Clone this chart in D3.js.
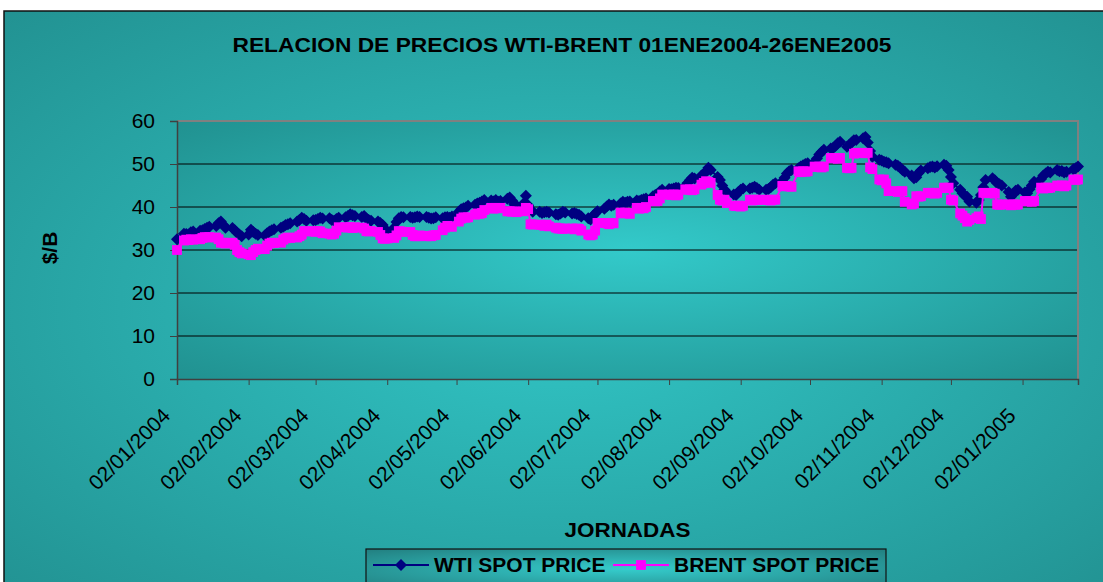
<!DOCTYPE html>
<html>
<head>
<meta charset="utf-8">
<script src="https://cdn.jsdelivr.net/npm/d3@7"></script>
<style>
  body { margin: 0; background: #fff; }
  text { font-family: "Liberation Sans", Arial, sans-serif; }
</style>
</head>
<body>
<script>
// trading days run from 02/01/2004 to 26/01/2005 (weekdays)
var startDate = "2004-01-02";
var endDate = "2005-01-26";

var tickLabels = ["02/01/2004", "02/02/2004", "02/03/2004", "02/04/2004", "02/05/2004", "02/06/2004",
  "02/07/2004", "02/08/2004", "02/09/2004", "02/10/2004", "02/11/2004", "02/12/2004", "02/01/2005"];
var yTicks = [0, 10, 20, 30, 40, 50, 60];

// WTI spot price, one line per week
var wti = [
  32.5,
  33.8, 33.7, 33.6, 34.1, 34.3,
  34.5, 34.6, 34.9, 35.2, 35.4,
  35.6, 36.2, 36.6, 35.9, 35.2,
  35.1, 34.6, 34.0, 33.6, 33.2,
  33.6, 34.7, 34.2, 33.8, 33.5,
  33.4, 33.9, 34.3, 34.6, 34.8,
  35.2, 35.4, 35.8, 36.0, 36.2,
  36.6, 37.0, 37.5, 37.2, 36.8,
  36.9, 37.0, 37.2, 37.5, 37.3,
  37.4, 37.0, 36.8, 37.2, 37.5,
  37.6, 37.9, 38.3, 38.1, 37.9,
  37.7, 37.9, 37.3, 37.0, 36.8,
  36.6, 36.3, 35.8, 34.9, 34.3,
  35.2, 36.5, 37.4, 37.7, 37.6,
  37.7, 37.5, 37.6, 37.8, 37.7,
  37.7, 37.5, 37.3, 37.4, 37.6,
  37.4, 37.6, 37.7, 37.5, 37.8,
  38.9, 39.5, 39.7, 39.9, 40.3,
  40.5, 40.8, 41.0, 41.3, 41.6,
  41.5, 41.3, 41.6, 41.2, 41.4,
  41.9, 42.2, 41.5, 40.6, 40.3,
  40.8, 42.6, 40.4, 39.5, 38.9,
  38.9, 38.6, 38.8, 38.9, 38.7,
  38.3, 38.2, 38.5, 38.9, 38.7,
  38.5, 38.6, 38.4, 38.2, 37.8,
  37.4, 37.1, 37.9, 38.5, 39.0,
  39.6, 40.1, 40.6, 40.3, 40.5,
  40.8, 41.2, 41.0, 41.2, 41.3,
  41.5, 41.4, 41.6, 41.8, 42.0,
  42.5, 42.8, 43.1, 43.6, 44.0,
  44.2, 44.1, 44.3, 44.5, 44.4,
  44.9, 45.6, 46.2, 46.8, 46.6,
  47.3, 47.6, 48.3, 49.1, 48.6,
  47.0, 46.3, 45.0, 44.0, 43.4,
  42.9, 42.8, 43.5, 44.0, 44.3,
  44.3, 44.5, 44.7, 44.4, 44.0,
  44.0, 44.2, 44.6, 45.2, 45.5,
  46.0, 46.8, 47.8, 48.3, 48.6,
  49.0, 49.4, 49.7, 50.0, 50.2,
  50.5, 51.3, 52.2, 52.8, 53.3,
  53.6, 53.7, 54.2, 54.8, 55.2,
  54.0, 54.5, 55.0, 55.5, 55.6,
  56.0, 56.3, 55.0, 53.0, 51.7,
  51.0, 50.8, 50.5, 50.4, 50.2,
  49.8, 49.6, 49.2, 48.6, 48.2,
  47.3, 46.7, 46.9, 47.9, 48.5,
  49.0, 49.3, 49.4, 49.2, 49.5,
  49.8, 49.6, 48.6, 47.0, 45.5,
  44.0, 43.2, 42.6, 42.4, 41.3,
  41.0, 41.6, 42.8, 44.6, 46.3,
  46.7, 46.2, 45.5, 45.3, 45.0,
  43.5, 42.4, 43.0, 43.8, 44.0,
  43.4, 43.2, 44.1, 45.0, 45.9,
  46.5, 47.3, 47.8, 48.2, 48.0,
  48.6, 48.3, 48.4, 48.0, 48.2,
  48.8, 49.0, 49.4
];

// Brent spot price, one line per week
var brent = [
  30.0,
  32.2, 32.4, 32.3, 32.5, 32.4,
  32.5, 32.8, 33.0, 32.9, 33.0,
  32.9, 32.5, 31.7, 31.7, 31.5,
  31.7, 31.2, 30.0, 29.5, 29.2,
  29.0, 28.8, 29.5, 30.0, 30.3,
  30.2, 31.0, 31.5, 31.7, 31.6,
  31.7, 32.4, 32.7, 32.9, 32.8,
  32.9, 33.2, 33.6, 34.4, 34.3,
  34.4, 34.2, 34.4, 34.3, 33.9,
  33.8, 33.6, 33.8, 34.5, 35.3,
  35.3, 35.2, 35.3, 35.1, 35.3,
  35.2, 35.0, 34.4, 34.3, 34.4,
  34.2, 33.5, 32.7, 32.6, 32.7,
  32.8, 33.4, 34.4, 34.3, 34.2,
  34.2, 33.5, 33.2, 33.2, 33.4,
  33.2, 33.3, 33.2, 33.4, 33.5,
  34.6, 35.2, 35.6, 35.5, 35.4,
  36.6, 37.3, 37.6, 37.5, 37.6,
  38.2, 38.5, 38.4, 38.6, 39.3,
  39.8, 39.6, 39.8, 39.7, 39.8,
  39.0, 39.0, 38.9, 39.0, 38.8,
  39.0, 39.8, 39.5, 36.0, 35.9,
  35.9, 35.8, 35.6, 35.9, 35.5,
  35.2, 35.0, 35.0, 34.9, 35.0,
  35.0, 34.8, 35.0, 34.9, 34.5,
  33.6, 33.4, 33.6, 34.5, 36.3,
  36.3, 36.2, 36.0, 36.3, 36.2,
  38.7, 38.5, 38.7, 38.6, 38.4,
  39.8, 39.6, 39.8, 39.7, 40.0,
  41.4, 41.3, 41.4, 42.0, 42.9,
  42.9, 42.8, 42.9, 42.7, 42.9,
  44.1, 44.0, 44.1, 43.9, 44.1,
  45.2, 45.6, 46.0, 45.8, 45.6,
  42.8, 41.7, 41.5, 41.7, 40.9,
  40.3, 40.2, 40.3, 40.1, 40.3,
  41.7, 41.5, 41.7, 41.6, 41.7,
  41.7, 41.6, 41.5, 41.7, 41.7,
  44.9, 44.8, 44.9, 44.8, 44.7,
  48.3, 48.1, 48.3, 48.2, 48.3,
  49.4, 49.3, 49.4, 49.2, 49.4,
  51.4, 51.3, 51.4, 51.2, 51.4,
  49.1, 49.0, 49.1, 52.4, 52.6,
  52.6, 52.5, 52.6, 49.2, 48.8,
  46.4, 46.2, 46.4, 45.5, 43.7,
  43.7, 43.5, 43.6, 43.7, 41.2,
  40.6, 40.8, 42.5, 42.4, 42.5,
  43.3, 43.2, 43.3, 43.1, 43.3,
  44.5, 44.4, 44.5, 41.7, 41.5,
  38.5, 38.0, 37.4, 36.6, 37.0,
  37.4, 37.8, 37.2, 43.3, 43.2,
  43.3, 43.1, 40.6, 40.5, 40.6,
  40.6, 40.4, 40.6, 40.5, 40.6,
  41.4, 41.3, 41.4, 41.2, 41.4,
  44.5, 44.3, 44.5, 44.4, 44.5,
  45.0, 44.9, 45.0, 44.8, 45.0,
  46.4, 46.3, 46.4
];

var svgWidth = 1103, svgHeight = 582;
var plot = { left: 177, top: 121, right: 1078, bottom: 379 };

var parseIso = d3.timeParse("%Y-%m-%d");
var parseTick = d3.timeParse("%d/%m/%Y");

var days = d3.timeDay.range(parseIso(startDate), d3.timeDay.offset(parseIso(endDate), 1))
  .filter(d => d.getDay() !== 0 && d.getDay() !== 6);

var data = days.map((d, i) => ({ date: d, wti: wti[i], brent: brent[i] }));

var svg = d3.select("body").append("svg")
  .attr("width", svgWidth)
  .attr("height", svgHeight);

var defs = svg.append("defs");

function radial(id, inner, outer, r) {
  var g = defs.append("radialGradient").attr("id", id)
    .attr("cx", "50%").attr("cy", "50%").attr("r", r);
  g.append("stop").attr("offset", "0%").attr("stop-color", inner);
  g.append("stop").attr("offset", "100%").attr("stop-color", outer);
}
radial("chartBg", "#32c6c6", "#218f8f", "75%");
radial("plotBg", "#33caca", "#20908f", "72%");
radial("legendBg", "#35cccc", "#227f80", "70%");

// chart area
svg.append("rect")
  .attr("x", 4).attr("y", 11)
  .attr("width", 1110).attr("height", 590)
  .attr("fill", "url(#chartBg)")
  .attr("stroke", "#111").attr("stroke-width", 1.5);

var xScale = d3.scaleTime()
  .domain([parseIso(startDate), parseIso(endDate)])
  .range([plot.left, plot.right]);

var yScale = d3.scaleLinear()
  .domain([0, 60])
  .range([plot.bottom, plot.top]);

// plot area
svg.append("rect")
  .attr("x", plot.left).attr("y", plot.top)
  .attr("width", plot.right - plot.left).attr("height", plot.bottom - plot.top)
  .attr("fill", "url(#plotBg)");

svg.append("g")
  .selectAll("line")
  .data(yTicks.filter(v => v > 0 && v < 60))
  .enter().append("line")
  .attr("x1", plot.left).attr("x2", plot.right)
  .attr("y1", d => yScale(d)).attr("y2", d => yScale(d))
  .attr("stroke", "#000").attr("stroke-width", 1);

svg.append("path")
  .attr("d", `M${plot.left},${plot.top}H${plot.right}V${plot.bottom}`)
  .attr("fill", "none").attr("stroke", "#808080").attr("stroke-width", 2);

// axes
var leftAxis = d3.axisLeft(yScale).tickValues(yTicks).tickSize(7).tickPadding(15);
var gy = svg.append("g").attr("transform", `translate(${plot.left},0)`).call(leftAxis);
gy.select(".domain").attr("stroke", "#404040").attr("stroke-width", 1.5);
gy.selectAll(".tick line").attr("stroke", "#404040");
gy.selectAll("text").attr("font-size", 21).attr("fill", "#000");

var tickDates = tickLabels.map(t => parseTick(t));
var bottomAxis = d3.axisBottom(xScale).tickValues(tickDates).tickSize(6).tickFormat((d, i) => tickLabels[i]);
var gx = svg.append("g").attr("transform", `translate(0,${plot.bottom})`).call(bottomAxis);
gx.select(".domain").attr("stroke", "#404040").attr("stroke-width", 1.5);
gx.selectAll(".tick line").attr("stroke", "#404040");
gx.selectAll("text")
  .attr("font-size", 21).attr("fill", "#000")
  .attr("text-anchor", "end")
  .attr("dy", null).attr("y", 0)
  .attr("transform", "translate(-6,38) rotate(-45)");

// series
var wtiLine = d3.line().x(d => xScale(d.date)).y(d => yScale(d.wti));
var brentLine = d3.line().x(d => xScale(d.date)).y(d => yScale(d.brent));
var diamond = d3.symbol().type(d3.symbolSquare).size(72);
var square = d3.symbol().type(d3.symbolSquare).size(96);

svg.append("path").datum(data)
  .attr("d", wtiLine).attr("fill", "none")
  .attr("stroke", "#000080").attr("stroke-width", 2);
svg.append("g").selectAll("path")
  .data(data).enter().append("path")
  .attr("d", diamond)
  .attr("transform", d => `translate(${xScale(d.date)},${yScale(d.wti)}) rotate(45)`)
  .attr("fill", "#000080");

svg.append("path").datum(data)
  .attr("d", brentLine).attr("fill", "none")
  .attr("stroke", "#ff00ff").attr("stroke-width", 2);
svg.append("g").selectAll("path")
  .data(data).enter().append("path")
  .attr("d", square)
  .attr("transform", d => `translate(${xScale(d.date)},${yScale(d.brent)})`)
  .attr("fill", "#ff00ff");

// titles
svg.append("text")
  .attr("x", 562).attr("y", 52)
  .attr("text-anchor", "middle")
  .attr("font-size", 21).attr("font-weight", "bold")
  .attr("textLength", 659).attr("lengthAdjust", "spacingAndGlyphs")
  .text("RELACION DE PRECIOS WTI-BRENT 01ENE2004-26ENE2005");

svg.append("text")
  .attr("transform", "translate(57,248) rotate(-90)")
  .attr("text-anchor", "middle")
  .attr("font-size", 21).attr("font-weight", "bold")
  .text("$/B");

svg.append("text")
  .attr("x", (plot.left + plot.right) / 2).attr("y", 537)
  .attr("text-anchor", "middle")
  .attr("font-size", 21).attr("font-weight", "bold")
  .attr("textLength", 126).attr("lengthAdjust", "spacingAndGlyphs")
  .text("JORNADAS");

// legend
var legend = svg.append("g");
legend.append("rect")
  .attr("x", 366).attr("y", 549).attr("width", 520).attr("height", 40)
  .attr("fill", "url(#legendBg)").attr("stroke", "#111").attr("stroke-width", 1.2);

var legendItems = [
  { name: "WTI SPOT PRICE", color: "#000080", shape: "diamond", x: 373 },
  { name: "BRENT SPOT PRICE", color: "#ff00ff", shape: "square", x: 613 }
];
legendItems.forEach(function(item) {
  legend.append("line")
    .attr("x1", item.x).attr("x2", item.x + 56)
    .attr("y1", 565).attr("y2", 565)
    .attr("stroke", item.color).attr("stroke-width", 2);
  legend.append("path")
    .attr("d", item.shape === "diamond" ? diamond : square)
    .attr("transform", `translate(${item.x + 28},565)` + (item.shape === "diamond" ? " rotate(45)" : ""))
    .attr("fill", item.color);
  legend.append("text")
    .attr("x", item.x + 61).attr("y", 572)
    .attr("font-size", 21).attr("font-weight", "bold")
    .text(item.name);
});
</script>
</body>
</html>
